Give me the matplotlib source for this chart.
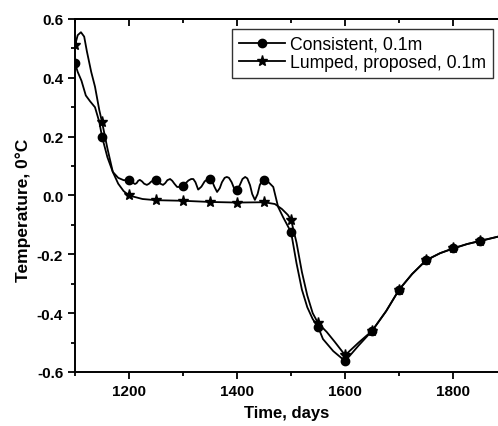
import numpy as np
import matplotlib.pyplot as plt
from matplotlib.ticker import MultipleLocator

plt.rcParams['font.family'] = ['Liberation Sans', 'DejaVu Sans']

# Consistent mass matrix, 0.1 m
t_cons = [1100, 1105, 1112, 1120, 1128, 1137, 1145, 1150, 1160, 1170, 1180, 1190,
          1200, 1205, 1211, 1214, 1217, 1220, 1224, 1228, 1233, 1237, 1241, 1246, 1250,
          1254, 1258, 1263, 1267, 1271, 1276, 1280, 1284, 1289, 1295, 1300, 1305,
          1310, 1315, 1319, 1323, 1328, 1334, 1340, 1345, 1350, 1354, 1358, 1363, 1368,
          1372, 1377, 1381, 1385, 1390, 1395, 1400, 1405, 1410, 1415, 1419, 1424, 1428,
          1433, 1438, 1442, 1446, 1450, 1455, 1460, 1467, 1476, 1485,
          1500, 1510, 1520, 1530, 1540, 1550, 1559, 1578, 1600, 1625, 1650, 1676,
          1700, 1724, 1750, 1776, 1800, 1826, 1850, 1883]
T_cons = [0.45, 0.42, 0.39, 0.34, 0.32, 0.30, 0.25, 0.20, 0.13, 0.08, 0.06, 0.052,
          0.053, 0.046, 0.039, 0.042, 0.050, 0.053, 0.048, 0.040, 0.036, 0.040, 0.047, 0.052, 0.053,
          0.047, 0.040, 0.036, 0.042, 0.052, 0.056, 0.050, 0.040, 0.029, 0.029, 0.032, 0.042,
          0.051, 0.056, 0.056, 0.045, 0.020, 0.030, 0.048, 0.055, 0.056, 0.048, 0.030, 0.012, 0.025,
          0.045, 0.060, 0.063, 0.060, 0.045, 0.022, 0.019, 0.035, 0.056, 0.063, 0.058, 0.035, 0.005,
          -0.015, 0.005, 0.035, 0.050, 0.053, 0.050, 0.042, 0.029, -0.039, -0.073,
          -0.125, -0.23, -0.32, -0.38, -0.42, -0.447, -0.488, -0.529, -0.563, -0.51, -0.46, -0.393,
          -0.32, -0.267, -0.22, -0.196, -0.18, -0.165, -0.155, -0.14]

# Lumped mass matrix (proposed), 0.1 m
t_lump = [1100, 1105, 1111, 1117, 1122, 1130, 1137, 1145, 1150, 1160, 1170, 1180, 1190,
          1200, 1225, 1250, 1300, 1350, 1400, 1450, 1470, 1483, 1494, 1500, 1510, 1520,
          1530, 1540, 1550, 1566, 1581, 1600, 1625, 1650, 1676, 1700, 1724, 1750, 1776,
          1800, 1826, 1850, 1883]
T_lump = [0.51, 0.545, 0.555, 0.54, 0.49, 0.42, 0.37, 0.29, 0.25, 0.16, 0.08, 0.04, 0.015,
          0.0, -0.012, -0.016, -0.018, -0.022, -0.024, -0.023, -0.029, -0.046, -0.066, -0.083, -0.16, -0.26,
          -0.34, -0.40, -0.434, -0.464, -0.498, -0.543, -0.50, -0.46, -0.393, -0.32, -0.267, -0.22, -0.196,
          -0.18, -0.165, -0.154, -0.14]

# markers every 50 days
mark_cons = [i for i, t in enumerate(t_cons) if t % 50 == 0]
mark_lump = [i for i, t in enumerate(t_lump) if t % 50 == 0]

fig = plt.figure(figsize=(4.98, 4.27), dpi=100)
ax = fig.add_axes([0.1506, 0.1265, 0.8494, 0.8267])

ax.plot(t_cons, T_cons, color='black', lw=1.3, marker='o', ms=6,
        markevery=mark_cons, label='Consistent, 0.1m')
ax.plot(t_lump, T_lump, color='black', lw=1.3, marker='*', ms=8,
        markevery=mark_lump, label='Lumped, proposed, 0.1m')

ax.set_xlim(1100, 1883)
ax.set_ylim(-0.6, 0.6)
ax.xaxis.set_major_locator(MultipleLocator(200))
ax.xaxis.set_minor_locator(MultipleLocator(100))
ax.yaxis.set_major_locator(MultipleLocator(0.2))
ax.yaxis.set_minor_locator(MultipleLocator(0.1))
ax.yaxis.set_major_formatter(plt.FuncFormatter(lambda v, p: f'{v:.1f}'))

ax.spines['right'].set_visible(False)
for s in ['left', 'bottom', 'top']:
    ax.spines[s].set_linewidth(1.4)
ax.tick_params(which='both', direction='out', width=1.3)
ax.tick_params(which='major', length=5, labelsize=11)
ax.tick_params(which='minor', length=3)
for lab in ax.get_xticklabels() + ax.get_yticklabels():
    lab.set_fontweight('bold')

# inward ticks along the top edge
top = ax.secondary_xaxis('top')
top.xaxis.set_major_locator(MultipleLocator(200))
top.xaxis.set_minor_locator(MultipleLocator(100))
top.tick_params(which='both', direction='in', width=1.3, labeltop=False)
top.tick_params(which='major', length=5)
top.tick_params(which='minor', length=3)
top.spines['top'].set_linewidth(1.4)

ax.set_xlabel('Time, days', fontsize=12, fontweight='bold', labelpad=5)
ax.set_ylabel('Temperature, 0°C', fontsize=12.5, fontweight='bold')
ax.yaxis.set_label_coords(-0.105, 0.46)

leg = ax.legend(loc='upper right', bbox_to_anchor=(0.997, 0.982), fontsize=12.7,
                frameon=True, fancybox=False, edgecolor='black', handlelength=2.6,
                borderpad=0.4, labelspacing=0.05, handletextpad=0.3, borderaxespad=0.2)
leg.get_frame().set_linewidth(1.0)

fig.savefig('out.png', dpi=100)
